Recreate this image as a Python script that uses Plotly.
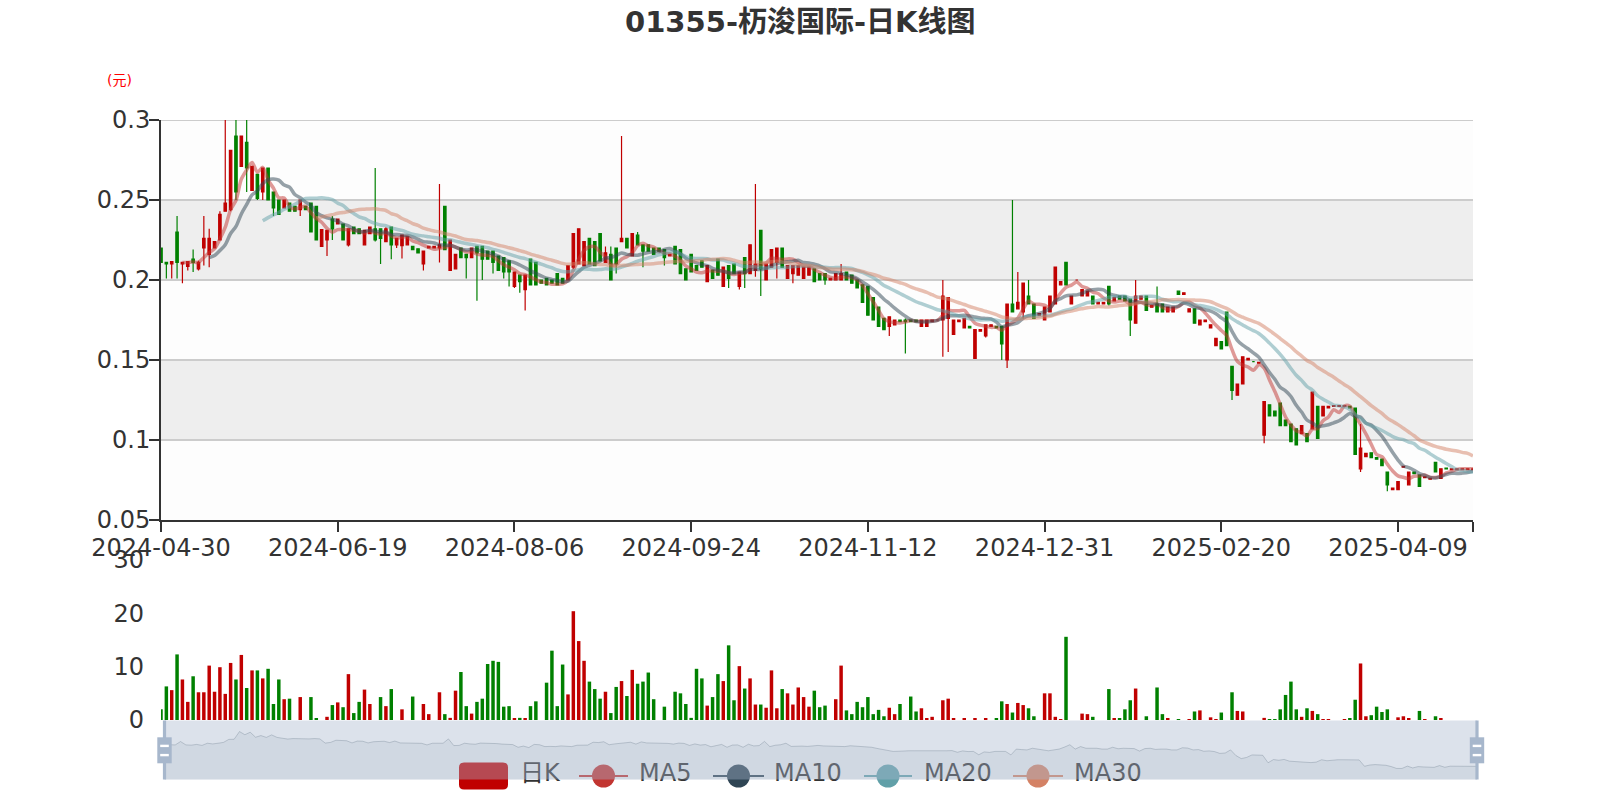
import pandas as pd
import plotly.graph_objects as go

# ---------------- data ----------------
holidays = ["2024-05-01", "2024-05-15", "2024-06-10", "2024-07-01", "2024-09-06", "2024-09-18",
            "2024-10-01", "2024-10-11", "2024-12-25", "2024-12-26", "2025-01-01", "2025-01-29",
            "2025-01-30", "2025-01-31", "2025-04-04", "2025-04-18", "2025-04-21", "2025-05-01"]
dates = [d.strftime("%Y-%m-%d") for d in pd.bdate_range("2024-04-30", "2025-05-02")
         if d.strftime("%Y-%m-%d") not in holidays]

open_ = [.220, .211, .210, .230, .210, .2085, .213, .207, .220, .216, .220, .225, .243, .244, .290, .271, .286, .256, .266, .255,
         .270, .255, .250, .245, .248, .246, .244, .246, .248, .246, .221, .225, .238, .235, .235, .222, .233, .232, .222, .229,
         .232, .232, .224, .233, .222, .2215, .222, .221, .2195, .210, .220, .220, .220, .246, .206, .207, .220, .216, .214, .221,
         .221, .218, .218, .215, .214, .212, .196, .203, .194, .213, .211, .200, .201, .200, .204, .201, .200, .208, .210, .209,
         .226, .224, .229, .211, .216, .220, .224, .226, .215, .228, .222, .222, .220, .220, .219, .215, .221, .219, .207, .216,
         .209, .212, .199, .206, .213, .196, .209, .210, .196, .214, .204, .206, .231, .200, .208, .211, .220, .201, .204, .203,
         .201, .203, .207, .204, .204, .200, .200, .200, .205, .203, .200, .197, .196, .189, .183, .176, .171, .172, .175, .175,
         .175, .175, .171, .171, .174, .175, .175, .176, .166, .174, .170, .171, .151, .168, .165, .171, .171, .171, .150, .185,
         .182, .180, .190, .185, .178, .175, .180, .185, .197, .211, .185, .200, .190, .190, .190, .185, .185, .196, .187, .190,
         .190, .188, .173, .188, .190, .183, .185, .185, .180, .180, .193, .191, .180, .182, .172, .174, .170, .159, .1615, .180,
         .146, .128, .135, .150, .149, .148, .103, .122, .118, .123, .1125, .110, .107, .104, .104, .107, .121, .115, .120, .121,
         .121, .121, .121, .120, .082, .0896, .092, .089, .088, .080, .069, .069, .083, .072, .080, .078, .0765, .0755, .086, .076,
         .0825, .0815, .0815, .0815, .0815, .0815]
close_ = [.211, .210, .2115, .211, .211, .2115, .211, .211, .226, .226, .224, .241, .248, .281, .255, .290, .270, .271, .251, .270,
          .250, .245, .241, .250, .243, .243, .250, .244, .230, .225, .2315, .231, .232, .238, .225, .232, .229, .229, .231, .233,
          .225, .226, .232, .222, .226, .228, .227, .219, .217, .218, .221, .221, .222, .219, .225, .216, .214, .214, .220, .217,
          .213, .213, .211, .206, .205, .205, .205, .199, .203, .197, .197, .198, .197, .198, .197, .198, .209, .229, .232, .224,
          .210, .209, .212, .217, .200, .210, .226, .220, .229, .222, .218, .218, .216, .218, .214, .216, .210, .204, .200, .205,
          .206, .208, .209, .201, .203, .208, .201, .204, .205, .204, .222, .210, .207, .210, .219, .220, .208, .209, .209, .209,
          .208, .208, .199, .200, .200, .201, .204, .204, .200, .198, .195, .186, .178, .175, .171, .169, .177, .175, .174, .174,
          .174, .174, .175, .175, .175, .175, .190, .189, .175, .175, .176, .170, .169, .169, .172, .172, .170, .160, .185, .180,
          .186, .198, .185, .176, .179, .183, .190, .208, .199, .197, .190, .200, .194, .193, .185, .186, .186, .185, .189, .188,
          .187, .175, .190, .190, .181, .184, .180, .180, .183, .183, .191, .192, .182, .173, .175, .175, .172, .1635, .157, .159,
          .131, .135, .152, .151, .149, .1485, .124, .115, .115, .109, .109, .099, .097, .109, .099, .130, .101, .121, .121, .1215,
          .1215, .1215, .120, .091, .095, .0917, .089, .088, .084, .072, .070, .074, .0835, .080, .079, .071, .077, .076, .080, .082,
          .082, .082, .082, .082, .082, .082]
low_ = [.211, .201, .201, .201, .198, .206, .205, .206, .209, .208, .220, .225, .243, .243, .250, .271, .255, .256, .250, .250,
        .250, .240, .241, .245, .243, .243, .240, .244, .230, .225, .221, .215, .225, .235, .225, .221, .229, .229, .222, .229,
        .224, .210, .224, .213, .220, .2135, .222, .219, .217, .206, .220, .220, .211, .219, .206, .207, .214, .201, .214, .187,
        .200, .213, .204, .206, .201, .196, .195, .192, .181, .197, .197, .198, .197, .198, .197, .198, .200, .207, .210, .209,
        .210, .209, .212, .211, .200, .204, .224, .220, .215, .222, .208, .218, .216, .218, .209, .215, .210, .204, .200, .205,
        .206, .208, .199, .201, .203, .196, .195, .204, .194, .195, .204, .202, .190, .200, .208, .201, .208, .201, .198, .203,
        .201, .203, .199, .200, .197, .200, .200, .200, .200, .198, .195, .186, .178, .175, .171, .169, .165, .172, .174, .154,
        .174, .174, .171, .171, .174, .175, .152, .155, .166, .174, .170, .170, .151, .168, .164, .171, .170, .150, .145, .180,
        .182, .176, .185, .176, .178, .175, .180, .185, .197, .197, .185, .200, .190, .190, .185, .185, .185, .184, .187, .188,
        .187, .165, .173, .188, .181, .183, .180, .180, .180, .180, .191, .191, .180, .173, .172, .174, .170, .159, .157, .159,
        .125, .128, .135, .150, .149, .148, .098, .115, .115, .109, .109, .099, .097, .104, .099, .107, .101, .115, .120, .121,
        .121, .121, .120, .091, .080, .0896, .089, .088, .084, .068, .069, .069, .083, .072, .079, .071, .0765, .0755, .080, .076,
        .082, .0815, .0815, .0815, .0815, .0815]
high_ = [.220, .211, .2115, .240, .211, .2115, .219, .212, .240, .232, .224, .243, .300, .281, .300, .290, .300, .271, .266, .270,
         .270, .255, .250, .250, .248, .246, .250, .246, .248, .246, .2315, .231, .240, .238, .235, .232, .233, .232, .231, .233,
         .270, .232, .233, .233, .226, .228, .227, .221, .2195, .218, .221, .221, .260, .246, .225, .216, .220, .216, .220, .221,
         .221, .218, .218, .215, .214, .212, .205, .203, .203, .213, .211, .200, .201, .200, .204, .201, .209, .229, .232, .224,
         .226, .224, .229, .221, .221, .220, .290, .226, .229, .230, .222, .222, .220, .220, .219, .216, .221, .219, .207, .216,
         .209, .212, .209, .206, .213, .208, .209, .210, .205, .214, .222, .260, .231, .210, .219, .220, .220, .209, .209, .209,
         .208, .208, .207, .204, .204, .201, .204, .210, .205, .203, .200, .197, .196, .189, .183, .176, .177, .175, .175, .176,
         .175, .175, .175, .175, .175, .175, .200, .189, .175, .175, .176, .171, .169, .169, .172, .172, .171, .171, .185, .250,
         .205, .198, .200, .185, .179, .183, .190, .208, .199, .211, .190, .200, .194, .193, .190, .186, .186, .196, .189, .190,
         .190, .188, .200, .190, .190, .184, .196, .185, .183, .183, .193, .192, .182, .182, .175, .175, .172, .1635, .1615, .180,
         .146, .135, .152, .151, .149, .1485, .124, .122, .118, .123, .1125, .110, .107, .109, .104, .130, .121, .121, .121, .1215,
         .1215, .1215, .121, .120, .110, .0917, .092, .089, .088, .080, .070, .074, .0835, .080, .080, .078, .077, .076, .086, .082,
         .0825, .082, .082, .082, .082, .082]
volume = [2.0, 6.3, 5.6, 12.3, 7.6, 3.4, 8.2, 5.2, 5.2, 10.2, 5.3, 9.9, 4.9, 10.7, 7.6, 12.2, 6.0, 9.3, 9.3, 7.8,
          9.6, 3.0, 7.6, 3.9, 4.0, 0, 4.3, 0, 4.3, 0.3, 0, 0.6, 2.8, 3.3, 2.4, 8.6, 1.3, 3.4, 5.7, 3.0,
          0, 4.3, 2.6, 5.8, 0, 2.0, 0, 4.4, 0, 3.0, 1.1, 0, 5.2, 1.1, 0.4, 5.5, 9.0, 2.6, 1.2, 3.4,
          4.0, 10.5, 11.1, 10.9, 2.5, 2.6, 0.3, 0.4, 0.3, 2.6, 3.5, 0, 7.0, 13.0, 2.6, 10.4, 4.8, 20.4, 14.8, 11.1,
          7.2, 5.8, 4.0, 5.3, 1.3, 6.2, 7.3, 4.5, 9.4, 6.8, 7.2, 8.9, 3.9, 0, 2.5, 0, 5.3, 5.0, 3.0, 0.4,
          9.6, 7.8, 2.7, 4.3, 8.6, 7.3, 14.0, 3.7, 10.1, 5.9, 7.8, 2.9, 2.9, 2.3, 9.3, 2.2, 5.8, 5.0, 2.9, 6.1,
          4.3, 2.5, 5.5, 2.4, 2.7, 0, 3.9, 10.2, 1.8, 1.1, 3.4, 2.4, 4.3, 1.1, 1.9, 0.7, 2.3, 1.1, 3.0, 0,
          4.4, 1.6, 2.2, 0.3, 0.6, 0, 3.7, 4.0, 0.2, 0, 0.2, 0, 0.2, 0, 0.2, 0, 0.2, 3.5, 3.0, 1.4,
          3.2, 2.8, 2.2, 0.7, 0, 5.0, 5.0, 0.6, 0.1, 15.6, 0, 0, 1.2, 1.1, 0.6, 0, 0, 5.8, 0.2, 0.3,
          2.0, 3.7, 5.9, 0, 0.7, 0, 6.1, 1.1, 0.3, 0, 0.1, 0, 0.1, 1.6, 1.8, 0, 0.5, 0.1, 1.4, 0,
          5.2, 1.7, 1.6, 0, 0, 0, 0.4, 0.1, 0.1, 2.0, 4.7, 7.2, 2.0, 0.6, 2.2, 1.7, 1.1, 0.1, 0.1, 0,
          0, 0.1, 0.2, 3.8, 10.6, 0.7, 0.9, 2.5, 1.5, 2.0, 0, 0.5, 0.7, 0.2, 0, 1.7, 0.1, 0, 0.7, 0.2,
          0, 0, 0, 0, 0, 0]

price_ticks = [0.05, 0.1, 0.15, 0.2, 0.25, 0.3]
price_labels = ["0.05", "0.1", "0.15", "0.2", "0.25", "0.3"]
vol_ticks = [0, 10, 20, 30]
ma_periods = [5, 10, 20, 30]
ma_names = ["MA5", "MA10", "MA20", "MA30"]

# ---------------- style ----------------
W, H = 1600, 800
FONT = "DejaVu Sans, Noto Sans CJK SC, sans-serif"
UP, DOWN = "#c00000", "#008000"
MA_COLORS = ["#c23531", "#2f4554", "#61a0a8", "#d48265"]
MA_LINE = ["rgba(194,53,49,0.5)", "rgba(47,69,84,0.5)", "rgba(97,160,168,0.5)", "rgba(212,130,101,0.5)"]
AX = "#333"
PLOT_L, PLOT_R = 161, 1473


def px(x):
    return x / W


def py(y):
    return 1 - y / H


n = len(dates)
close_s = pd.Series(close_)

fig = go.Figure()
fig.add_trace(go.Candlestick(
    x=dates, open=open_, high=high_, low=low_, close=close_, name="日K",
    xaxis="x", yaxis="y", whiskerwidth=0, showlegend=False, hoverinfo="skip",
    increasing=dict(line=dict(color=UP, width=1.2), fillcolor=UP),
    decreasing=dict(line=dict(color=DOWN, width=1.2), fillcolor=DOWN)))

for p, nm, c in zip(ma_periods, ma_names, MA_LINE):
    ma = close_s.rolling(p).mean()
    fig.add_trace(go.Scatter(x=dates, y=[None if pd.isna(v) else v for v in ma], name=nm, mode="lines",
                             line=dict(color=c, width=3.5, shape="spline", smoothing=0.8),
                             xaxis="x", yaxis="y", showlegend=False, hoverinfo="skip"))

vol_colors = [UP if c >= o else DOWN for o, c in zip(open_, close_)]
fig.add_trace(go.Bar(x=dates, y=volume, marker=dict(color=vol_colors, line=dict(width=0)),
                     xaxis="x2", yaxis="y2", showlegend=False, hoverinfo="skip"))

# slider data shadow (uses the open price, as the original does)
omin, omax = min(open_), max(open_)
pad = (omax - omin) * 0.3
fig.add_trace(go.Scatter(x=dates, y=open_, mode="lines", xaxis="x3", yaxis="y3",
                         line=dict(color="rgba(47,69,84,0.3)", width=1), fill="tozeroy",
                         fillcolor="rgba(47,69,84,0.09)", showlegend=False, hoverinfo="skip"))

# legend text (pixel overlay axes so the slider filler can sit on top)
leg_text_x = [520, 639, 774, 924, 1074]
fig.add_trace(go.Scatter(x=leg_text_x, y=[775] * 5, text=["日K"] + ma_names, mode="text",
                         textposition="middle right", cliponaxis=False,
                         textfont=dict(size=24, color=AX, family=FONT),
                         xaxis="x4", yaxis="y4", showlegend=False, hoverinfo="skip"))

shapes = []
band_cols = ["rgba(250,250,250,0.3)", "rgba(200,200,200,0.3)"]
for k in range(len(price_ticks) - 1):
    shapes.append(dict(type="rect", xref="x domain", yref="y", x0=0, x1=1,
                       y0=price_ticks[k], y1=price_ticks[k + 1], fillcolor=band_cols[k % 2],
                       line=dict(width=0), layer="below"))
# top split line (at the range edge, not drawn by the grid)
shapes.append(dict(type="line", xref="x domain", yref="y", x0=0, x1=1, y0=price_ticks[-1], y1=price_ticks[-1],
                   line=dict(color="#cccccc", width=2), layer="below"))

# legend icons
r = 5
x0, x1, y0, y1 = 459, 508, 762.5, 789.5
path = (f"M {x0+r},{y0} L {x1-r},{y0} Q {x1},{y0} {x1},{y0+r} L {x1},{y1-r} Q {x1},{y1} {x1-r},{y1} "
        f"L {x0+r},{y1} Q {x0},{y1} {x0},{y1-r} L {x0},{y0+r} Q {x0},{y0} {x0+r},{y0} Z")
shapes.append(dict(type="path", path=path, xref="x4", yref="y4", fillcolor=UP, line=dict(width=0), layer="above"))
icon_spans = [(579, 628), (713, 764), (864, 912), (1013, 1063)]
for (a, b), c in zip(icon_spans, MA_COLORS):
    m = (a + b) / 2
    shapes.append(dict(type="line", xref="x4", yref="y4", x0=a, x1=b, y0=776, y1=776,
                       line=dict(color=c, width=2), layer="above"))
    shapes.append(dict(type="circle", xref="x4", yref="y4", x0=m - 11.5, x1=m + 11.5, y0=764.5, y1=787.5,
                       fillcolor=c, line=dict(width=0), layer="above"))

# slider filler and handles
SL_L, SL_R, SL_T, SL_B = 164.5, 1477, 720.5, 779.5
shapes.append(dict(type="rect", xref="x4", yref="y4", x0=SL_L, x1=SL_R, y0=SL_T, y1=SL_B,
                   fillcolor="rgba(167,183,204,0.4)", line=dict(width=0), layer="above"))
for cx in (SL_L, SL_R):
    shapes.append(dict(type="rect", xref="x4", yref="y4", x0=cx - 1.6, x1=cx + 1.6, y0=SL_T, y1=SL_B,
                       fillcolor="#a7b7cc", line=dict(width=0), layer="above"))
    shapes.append(dict(type="rect", xref="x4", yref="y4", x0=cx - 7.2, x1=cx + 7.2, y0=737.3, y1=763.3,
                       fillcolor="#a7b7cc", line=dict(width=0), layer="above"))
    for hy in (744.7, 753.9):
        shapes.append(dict(type="rect", xref="x4", yref="y4", x0=cx - 4.3, x1=cx + 4.3, y0=hy, y1=hy + 2.4,
                           fillcolor="#ffffff", line=dict(width=0), layer="above"))

tick_idx = list(range(0, n, 33))
tickvals = [dates[i] for i in tick_idx] + [dates[-1]]
ticktext = [dates[i] for i in tick_idx] + [""]

annotations = [
    dict(text="<b>01355-杤浚国际-日K线图</b>", x=0.5, y=py(22), xref="paper", yref="paper",
         xanchor="center", yanchor="middle", showarrow=False, font=dict(size=29, color=AX, family=FONT)),
    dict(text="(元)", x=px(119), y=py(80), xref="paper", yref="paper", xanchor="center", yanchor="middle",
         showarrow=False, font=dict(size=14, color="red", family=FONT)),
]

fig.update_layout(
    width=W, height=H, autosize=False, margin=dict(l=0, r=0, t=0, b=0, pad=0, autoexpand=False),
    paper_bgcolor="white", plot_bgcolor="rgba(0,0,0,0)",
    font=dict(family=FONT, color=AX, size=24),
    showlegend=False, bargap=0.35, boxgap=0.35,
    shapes=shapes, annotations=annotations,
    xaxis=dict(domain=[px(PLOT_L), px(PLOT_R)], anchor="y", type="category", range=[0, n - 1],
               tickmode="array", tickvals=tickvals, ticktext=ticktext, automargin=False,
               showline=True, linecolor=AX, linewidth=2, ticks="outside", ticklen=10, tickwidth=2,
               tickcolor=AX, tickfont=dict(size=24, color=AX), ticklabelstandoff=-5,
               showgrid=False, zeroline=False, rangeslider=dict(visible=False), fixedrange=True),
    yaxis=dict(domain=[py(520), py(120)], anchor="x", range=[0.05, 0.3], automargin=False,
               tickmode="array", tickvals=price_ticks, ticktext=price_labels,
               showline=True, linecolor=AX, linewidth=2, ticks="outside", ticklen=10, tickwidth=2,
               tickcolor=AX, tickfont=dict(size=24, color=AX), ticklabelstandoff=-6,
               showgrid=True, gridcolor="#cccccc", gridwidth=2, zeroline=False, fixedrange=True),
    xaxis2=dict(domain=[px(PLOT_L), px(PLOT_R)], anchor="y2", type="category", range=[0, n - 1],
                showticklabels=False, showline=False, ticks="", showgrid=False, zeroline=False,
                automargin=False, fixedrange=True),
    yaxis2=dict(domain=[py(720), py(560)], anchor="x2", range=[0, 30], tickmode="array", tickvals=vol_ticks,
                showline=False, ticks="", showgrid=False, zeroline=False, automargin=False,
                tickfont=dict(size=24, color=AX), ticklabelstandoff=16, fixedrange=True),
    xaxis3=dict(domain=[px(SL_L), px(SL_R)], anchor="y3", type="category", range=[0, n - 1],
                visible=False, automargin=False, fixedrange=True),
    yaxis3=dict(domain=[py(SL_B), py(SL_T)], anchor="x3", range=[omin - pad, omax + pad],
                visible=False, automargin=False, fixedrange=True),
    xaxis4=dict(domain=[0, 1], anchor="y4", range=[0, W], visible=False, automargin=False, fixedrange=True),
    yaxis4=dict(domain=[0, 1], anchor="x4", range=[H, 0], visible=False, automargin=False, fixedrange=True),
)

fig.write_html("out.html", config={"displayModeBar": False},
               post_script="document.body.style.margin='0';")
